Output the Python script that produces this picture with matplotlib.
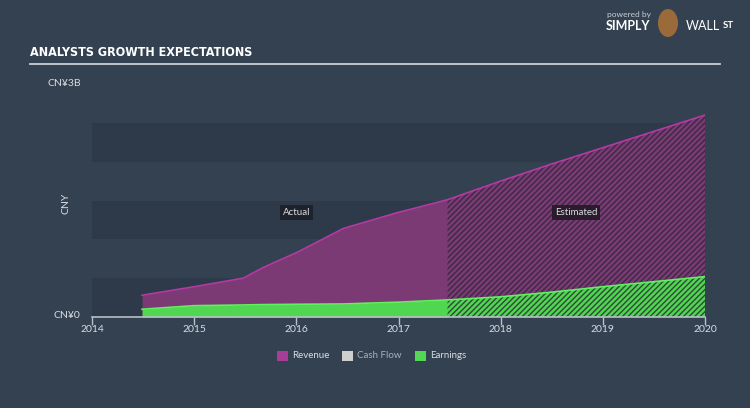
import numpy as np
import matplotlib
matplotlib.use('Agg')
import matplotlib.pyplot as plt

# values (CNY billions)
years = [2014.49, 2015.0, 2015.48, 2015.68, 2016.02, 2016.46, 2016.98, 2017.48,
         2018.0, 2018.5, 2019.0, 2020.0]
revenue = [0.28, 0.39, 0.50, 0.64, 0.84, 1.14, 1.34, 1.51,
           1.75, 1.97, 2.18, 2.60]
earnings = [0.10, 0.146, 0.155, 0.160, 0.164, 0.168, 0.19, 0.22,
            0.26, 0.32, 0.39, 0.52]
split = 2017.48  # actual -> estimated

xticks = [2014, 2015, 2016, 2017, 2018, 2019, 2020]
legend_labels = ['Revenue', 'Cash Flow', 'Earnings']
legend_colors = ['#a93c98', '#cfcfcf', '#52d852']

bg = '#344150'
band = '#2e3a49'
rev_fill = '#7b3a74'
rev_line = '#b43aa4'
earn_fill = '#50d650'
earn_line = '#60f060'
txt = '#d8dce2'

plt.rcParams['hatch.linewidth'] = 1.0
plt.rcParams['font.family'] = ['Lato', 'DejaVu Sans']

fig = plt.figure(figsize=(7.5, 4.08), dpi=100)
fig.patch.set_facecolor(bg)
ax = fig.add_axes([92 / 750, 1 - 317 / 408, 613 / 750, 233 / 408])
ax.set_facecolor('none')
ax.set_xlim(2014, 2020)
ax.set_ylim(0, 3)

# alternating horizontal bands
for lo in [0, 1, 2]:
    ax.axhspan(lo, lo + 0.5, color=band, lw=0, zorder=0)

x = np.array(years)
rev = np.array(revenue)
earn = np.array(earnings)
act = x <= split
est = x >= split

ax.fill_between(x[act], 0, rev[act], color=rev_fill, lw=0, zorder=1)
ax.fill_between(x[est], 0, rev[est], facecolor=rev_fill, edgecolor='#3b2a44',
                hatch='//////', lw=0, zorder=1)
ax.fill_between(x[act], 0, earn[act], color=earn_fill, lw=0, zorder=2)
ax.fill_between(x[est], 0, earn[est], facecolor=earn_fill, edgecolor='#2f4a3a',
                hatch='//////', lw=0, zorder=2)
ax.plot(x, rev, color=rev_line, lw=1.2, zorder=3)
ax.plot(x, earn, color=earn_line, lw=1.2, zorder=3)

for s in ['top', 'right', 'left']:
    ax.spines[s].set_visible(False)
ax.spines['bottom'].set_color('#b8c0c8')
ax.spines['bottom'].set_linewidth(1.2)
ax.set_xticks(xticks)
ax.set_xticklabels([str(t) for t in xticks])
ax.tick_params(axis='x', colors='#b8c0c8', labelcolor=txt, labelsize=7.5,
               length=6, width=1, pad=0)
ax.set_yticks([])

ax.text(2016.0, 1.35, 'Actual', color=txt, fontsize=7, ha='center', va='center',
        bbox=dict(boxstyle='square,pad=0.3', fc='#1e222a', ec='none'), zorder=5)
ax.text(2018.74, 1.35, 'Estimated', color=txt, fontsize=7, ha='center', va='center',
        bbox=dict(boxstyle='square,pad=0.3', fc='#2a1c2c', ec='none'), zorder=5)

# header and labels
fig.text(30 / 750, 1 - 53 / 408, 'ANALYSTS GROWTH EXPECTATIONS', color='white',
         fontsize=9, fontweight='bold', fontstretch='condensed',
         family=['Liberation Sans Narrow', 'DejaVu Sans'],
         va='center', ha='left')
fig.add_artist(plt.Line2D([30 / 750, 720 / 750], [1 - 64 / 408] * 2,
                          color='#c8ced6', lw=1.3))
fig.text(47 / 750, 1 - 84 / 408, 'CN¥3B', color=txt, fontsize=7.5, va='center')
fig.text(53 / 750, 1 - 316 / 408, 'CN¥0', color=txt, fontsize=7.5, va='center')
fig.text(66 / 750, 1 - 203 / 408, 'CNY', color=txt, fontsize=7.5, va='center',
         ha='center', rotation=90)

# logo text
fig.text(607 / 750, 1 - 15 / 408, 'powered by', color='#c8ced6', fontsize=6, va='center')
fig.text(606 / 750, 1 - 26 / 408, 'SIMPLY', color='white', fontsize=9,
         fontweight='bold', va='center')
fig.text(686 / 750, 1 - 26 / 408, 'WALL', color='white', fontsize=9, va='center')
fig.text(723 / 750, 1 - 25 / 408, 'ST', color='white', fontsize=7,
         fontweight='bold', va='center')
fig.patches.append(matplotlib.patches.Ellipse((668 / 750, 1 - 23 / 408), 20 / 750, 28 / 408,
                                              transform=fig.transFigure, fc='#9a6a3a',
                                              ec='none'))

# legend
lx = [277, 342, 415]
for px, lab, col in zip(lx, legend_labels, legend_colors):
    fig.patches.append(matplotlib.patches.Rectangle(
        (px / 750, 1 - 361 / 408), 11 / 750, 10 / 408,
        transform=fig.transFigure, fc=col, ec='none'))
    fig.text((px + 15) / 750, 1 - 356 / 408, lab,
             color=txt if lab != 'Cash Flow' else '#a8b0ba', fontsize=7, va='center')

fig.savefig('out.png', dpi=100, facecolor=bg)
